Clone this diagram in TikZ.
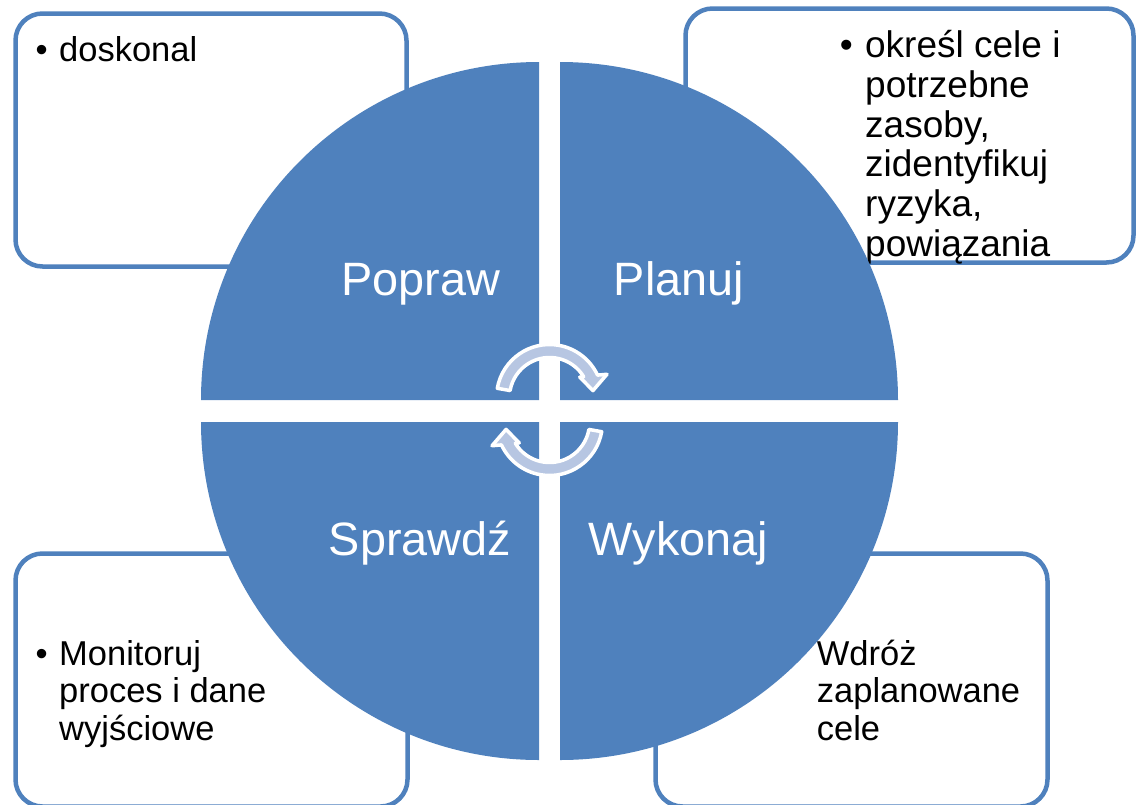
\documentclass[tikz,border=0pt]{standalone}
\usepackage{fontspec}
\setmainfont{Liberation Sans}
\definecolor{qblue}{HTML}{4F81BD}
\definecolor{arrowfill}{HTML}{B7C6E2}
\begin{document}
\begin{tikzpicture}[x=1pt,y=1pt,
  box/.style={draw=qblue, line width=4.5pt, rounded corners=27pt, fill=white, inner sep=0},
  quad/.style={fill=qblue},
  qlabel/.style={text=white, font=\fontsize{46.8}{50}\selectfont, anchor=base, inner sep=0},
  boxtext/.style={anchor=north west, inner sep=0, align=left, text=black, font=\fontsize{34.5}{37.5}\selectfont},
  cyc/.style={fill=arrowfill, draw=white, line width=3.5pt, line join=round}]
\useasboundingbox (0,0) rectangle (1136,-804);
\clip (0,0) rectangle (1136,-804);
% boxes
\node[box, minimum width=391pt, minimum height=253pt] (boxTL) at (211,-140) {};
\node[box, minimum width=448pt, minimum height=254pt] (boxTR) at (909.5,-135.5) {};
\node[box, minimum width=392pt, minimum height=253pt] (boxBL) at (211.5,-680) {};
\node[box, minimum width=392pt, minimum height=253pt] (boxBR) at (851.5,-680) {};
% box texts
\node[boxtext] (tTL) at (59,-27.2) {\llap{•\hspace{11.5pt}}\rule{0pt}{1em}doskonal};
\node[boxtext, font=\fontsize{37}{39.9}\selectfont] (tTR) at (865,-20) {\llap{•\hspace{12.5pt}}\rule{0pt}{1em}określ cele i\\potrzebne\\zasoby,\\zidentyfikuj\\ryzyka,\\powiązania};
\node[boxtext] (tBL) at (59,-630.5) {\llap{•\hspace{11.5pt}}\rule{0pt}{1em}Monitoruj\\proces i dane\\wyjściowe};
\node[boxtext] (tBR) at (816.7,-630.5) {\rule{0pt}{1em}Wdróż\\zaplanowane\\cele};
% quadrants
\fill[quad] (539,-400) -- (539,-62) arc[start angle=90,end angle=180,radius=338pt] -- cycle;
\fill[quad] (560,-400) -- (898,-400) arc[start angle=0,end angle=90,radius=338pt] -- cycle;
\fill[quad] (539,-422) -- (201,-422) arc[start angle=180,end angle=270,radius=338pt] -- cycle;
\fill[quad] (560,-422) -- (560,-760) arc[start angle=270,end angle=360,radius=338pt] -- cycle;
% cycle arrows
\begin{scope}[shift={(549.5,-397.5)}]
\path[cyc] (170:53) arc[start angle=170, end angle=25, radius=53pt] -- (22:62) -- (9:44) -- (34:36.5) -- (31.3:40) arc[start angle=31.3, end angle=170, radius=40pt] -- cycle;
\end{scope}
\begin{scope}[shift={(549.5,-422.5)}]
\path[cyc] (-10:53) arc[start angle=-10, end angle=-155, radius=53pt] -- (-158:62) -- (-171:44) -- (-146:36.5) -- (-148.7:40) arc[start angle=-148.7, end angle=-10, radius=40pt] -- cycle;
\end{scope}
% labels
\node[qlabel] (popraw) at (421,-295) {Popraw};
\node[qlabel] (planuj) at (679,-295) {Planuj};
\node[qlabel] (sprawdz) at (420,-555) {Sprawdź};
\node[qlabel] (wykonaj) at (678.5,-555) {Wykonaj};
\end{tikzpicture}
\end{document}
